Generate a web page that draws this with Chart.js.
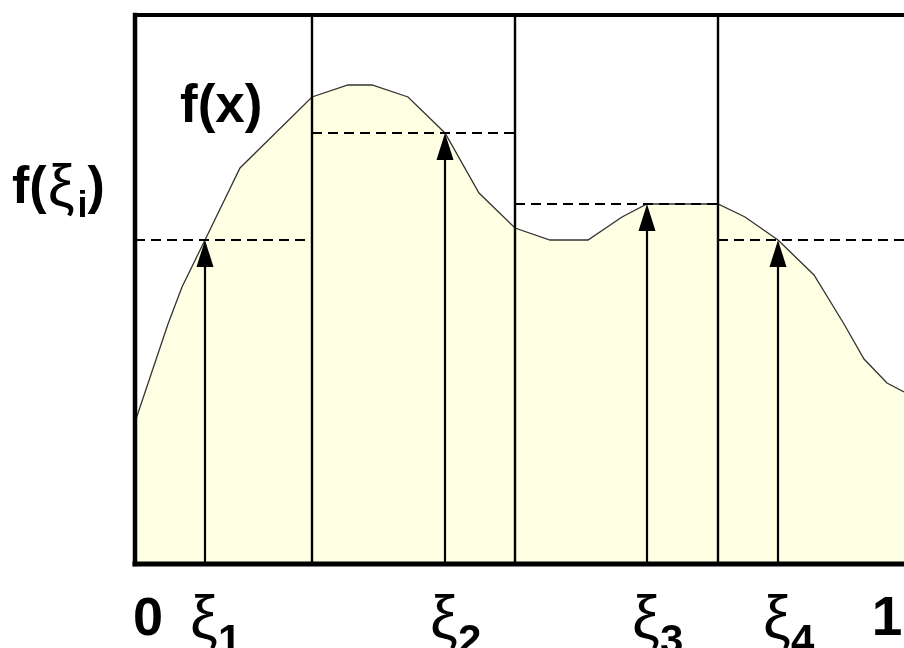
<!DOCTYPE html>
<html><head><meta charset="utf-8">
<script src="https://cdn.jsdelivr.net/npm/chart.js@4.4.1/dist/chart.umd.min.js"></script>
<style>html,body{margin:0;padding:0;background:#fff;}canvas{display:block;}</style>
</head><body>
<canvas id="c" width="904" height="648"></canvas>
<script>
// Data (x: 0..769 across the frame, y: 0..549 up the frame)
const curveX = [0, 33, 47, 70, 105, 177, 213, 237, 273, 310, 344, 380, 415, 453, 487, 512, 583, 610, 643, 679, 709, 729, 752, 769];
const curveY = [142, 240, 277, 324, 396, 467, 479, 479, 467, 431, 371, 336, 324, 324, 347, 360, 360, 347, 324, 289, 240, 205, 181, 172];
const partitions = [0, 177, 380, 583, 769];
const xiX = [70, 310, 512, 643];
const xiF = [324, 431, 360, 324];
const xiSubs = ['1', '2', '3', '4'];
const endLabels = ['0', '1'];
const curveLabel = 'f(x)';
const yLabelParts = ['f(', 'ξ', 'i', ')'];
const X_MAX = 769, Y_MAX = 549;

const datasets = [];
// arrow shafts
xiX.forEach((x, i) => datasets.push({
  data: [{x: x, y: 0}, {x: x, y: xiF[i] - 10}], showLine: true, borderColor: '#000',
  borderWidth: 2.2, pointRadius: 0, fill: false, order: 1
}));
// dashed levels
xiF.forEach((f, i) => datasets.push({
  data: [{x: partitions[i], y: f}, {x: partitions[i + 1], y: f}], showLine: true, borderColor: '#000',
  borderWidth: 2.2, borderDash: [10, 6], pointRadius: 0, fill: false, order: 2
}));
// partition verticals
partitions.slice(1, -1).forEach(p => datasets.push({
  data: [{x: p, y: 0}, {x: p, y: Y_MAX}], showLine: true, borderColor: '#000',
  borderWidth: 2.4, pointRadius: 0, fill: false, order: 3
}));
// curve
datasets.push({
  data: curveX.map((x, i) => ({x: x, y: curveY[i]})), showLine: true,
  borderColor: '#333', borderWidth: 1.3, backgroundColor: '#ffffe3',
  fill: 'origin', pointRadius: 0, tension: 0, order: 10
});

const FONT = '"Liberation Sans", Arial, sans-serif';

const overlay = {
  id: 'overlay',
  afterDatasetsDraw(chart) {
    const ctx = chart.ctx, xs = chart.scales.x, ys = chart.scales.y, a = chart.chartArea;
    ctx.save();
    // arrowheads
    ctx.fillStyle = '#000';
    xiX.forEach((x, i) => {
      const px = xs.getPixelForValue(x), py = ys.getPixelForValue(xiF[i]);
      ctx.beginPath();
      ctx.moveTo(px, py);
      ctx.lineTo(px - 8.5, py + 27);
      ctx.lineTo(px + 8.5, py + 27);
      ctx.closePath();
      ctx.fill();
    });
    // frame
    ctx.strokeStyle = '#000';
    ctx.lineCap = 'square';
    ctx.lineWidth = 4.5;
    ctx.beginPath(); ctx.moveTo(a.left, a.top); ctx.lineTo(a.left, a.bottom); ctx.stroke();
    ctx.lineWidth = 4;
    ctx.beginPath(); ctx.moveTo(a.left, a.top); ctx.lineTo(a.right + 5, a.top); ctx.stroke();
    ctx.lineWidth = 5;
    ctx.beginPath(); ctx.moveTo(a.left, a.bottom); ctx.lineTo(a.right + 5, a.bottom); ctx.stroke();
    ctx.restore();
  },
  afterDraw(chart) {
    const ctx = chart.ctx, xs = chart.scales.x;
    ctx.save();
    ctx.fillStyle = '#000';
    ctx.textBaseline = 'alphabetic';
    // f(x)
    ctx.font = 'bold 53px ' + FONT;
    ctx.textAlign = 'left';
    ctx.fillText(curveLabel, 180, 122);
    // f(ξi)
    let x = 12;
    ctx.font = 'bold 52px ' + FONT;
    ctx.fillText(yLabelParts[0], x, 203);
    x += ctx.measureText(yLabelParts[0]).width + 1;
    ctx.font = '60px ' + FONT;
    ctx.fillText(yLabelParts[1], x, 206);
    x += ctx.measureText(yLabelParts[1]).width + 3;
    ctx.font = 'bold 36px ' + FONT;
    ctx.fillText(yLabelParts[2], x, 217);
    x += ctx.measureText(yLabelParts[2]).width;
    ctx.font = 'bold 52px ' + FONT;
    ctx.fillText(yLabelParts[3], x, 203);
    // bottom labels
    ctx.font = 'bold 54px ' + FONT;
    ctx.textAlign = 'left';
    ctx.fillText(endLabels[0], xs.getPixelForValue(0) - 2, 635);
    ctx.font = 'bold 55px ' + FONT;
    ctx.textAlign = 'center';
    ctx.fillText(endLabels[1], xs.getPixelForValue(X_MAX) - 17, 635);
    xiX.forEach((v, i) => {
      const px = xs.getPixelForValue(v) - 1;
      ctx.font = '62px ' + FONT;
      ctx.textAlign = 'center';
      ctx.fillText('ξ', px, 638);
      const w = ctx.measureText('ξ').width;
      ctx.font = 'bold 42px ' + FONT;
      ctx.textAlign = 'left';
      ctx.fillText(xiSubs[i], px + w / 2, 654);
    });
    ctx.restore();
  }
};

new Chart(document.getElementById('c'), {
  type: 'scatter',
  data: { datasets },
  options: {
    responsive: false, animation: false, devicePixelRatio: 1,
    layout: { padding: { left: 135, top: 15, right: 0, bottom: 84 } },
    plugins: { legend: { display: false }, tooltip: { enabled: false } },
    scales: {
      x: { type: 'linear', min: 0, max: X_MAX, display: false },
      y: { type: 'linear', min: 0, max: Y_MAX, display: false }
    }
  },
  plugins: [overlay]
});
</script>
</body></html>
